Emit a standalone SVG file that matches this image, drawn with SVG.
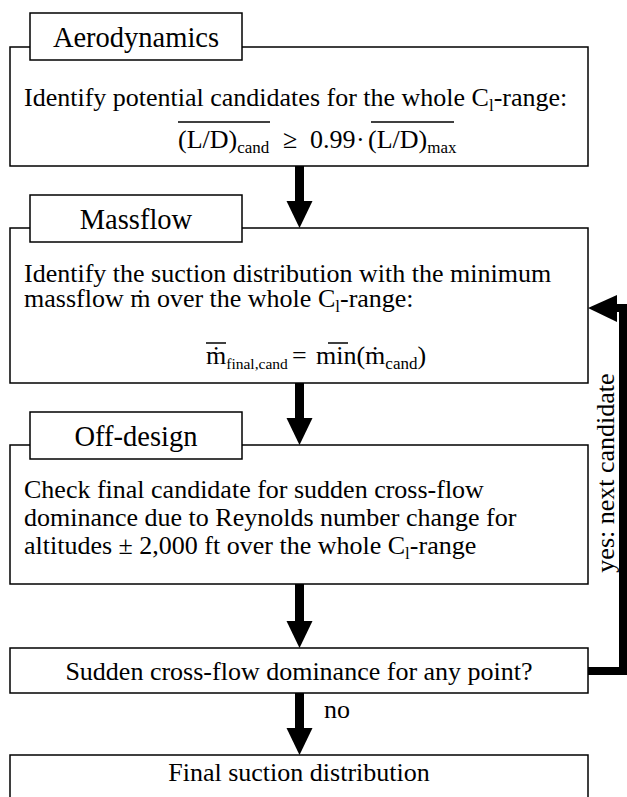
<svg xmlns="http://www.w3.org/2000/svg" width="627" height="797" viewBox="0 0 627 797">
<style>
.box{fill:#fff;stroke:#000;stroke-width:1.5}
.t{font-family:"Liberation Serif","Times New Roman",serif;font-size:26px;fill:#000}
.h{font-family:"Liberation Serif","Times New Roman",serif;font-size:28.5px;fill:#000;text-anchor:middle}
.s{font-size:17px}
.s2{font-size:15.5px}
.ov{stroke:#000;stroke-width:1.5;fill:none}
.c{fill:none;stroke:#000;stroke-width:9}
.ah{fill:#000}
</style>
<defs>
<path id="down" d="M-13,-27 L13,-27 L0,0 Z"/>
</defs>
<g id="connectors">
<line class="c" x1="299.5" y1="166" x2="299.5" y2="205"/>
<use href="#down" class="ah" x="299.5" y="228"/>
<line class="c" x1="299.5" y1="383" x2="299.5" y2="422"/>
<use href="#down" class="ah" x="299.5" y="445"/>
<line class="c" x1="299.5" y1="584" x2="299.5" y2="625"/>
<use href="#down" class="ah" x="299.5" y="648"/>
<line class="c" x1="299.5" y1="693" x2="299.5" y2="732"/>
<use href="#down" class="ah" x="299.5" y="755"/>
<path d="M588,671 L623,671 L623,308 L614,308" fill="none" stroke="#000" stroke-width="8"/>
<path class="ah" d="M588,308 L617,295 L617,322 Z"/>
<text class="t" x="324" y="718">no</text>
<text class="t" transform="translate(614,473) rotate(-90)" text-anchor="middle">yes: next candidate</text>
</g>
<g id="aerodynamics">
<rect class="box" x="10" y="47" width="578" height="119"/>
<rect class="box" x="30" y="13" width="212" height="47"/>
<text class="h" x="136" y="47">Aerodynamics</text>
<text class="t" x="24" y="106">Identify potential candidates for the whole C<tspan class="s" dy="5">l</tspan><tspan dy="-5">-range:</tspan></text>
<text class="t" x="178" y="148">(L/D)<tspan class="s" dy="5">cand</tspan></text>
<text class="t" x="283" y="148">≥</text>
<text class="t" x="310" y="148">0.99</text>
<text class="t" x="356" y="148">·</text>
<text class="t" x="368" y="148">(L/D)<tspan class="s" dy="5">max</tspan></text>
<line class="ov" x1="178" y1="122" x2="270" y2="122"/>
<line class="ov" x1="371" y1="122" x2="454" y2="122"/>
</g>
<g id="massflow">
<rect class="box" x="10" y="228" width="578" height="155"/>
<rect class="box" x="30" y="195" width="212" height="47"/>
<text class="h" x="136" y="229">Massflow</text>
<text class="t" x="24" y="282">Identify the suction distribution with the minimum</text>
<text class="t" x="24" y="307">massflow ṁ over the whole C<tspan class="s" dy="5">l</tspan><tspan dy="-5">-range:</tspan></text>
<text class="t" x="206" y="364">ṁ<tspan class="s2" dy="5">final,cand</tspan></text>
<text class="t" x="292" y="364">=</text>
<text class="t" x="316" y="364">min(ṁ<tspan class="s" dy="5">cand</tspan><tspan dy="-5">)</tspan></text>
<line class="ov" x1="206" y1="343" x2="226" y2="343"/>
<line class="ov" x1="328" y1="343" x2="348" y2="343"/>
</g>
<g id="offdesign">
<rect class="box" x="10" y="445" width="578" height="139"/>
<rect class="box" x="30" y="412" width="212" height="47"/>
<text class="h" x="136" y="446">Off-design</text>
<text class="t" x="24" y="498">Check final candidate for sudden cross-flow</text>
<text class="t" x="24" y="526">dominance due to Reynolds number change for</text>
<text class="t" x="24" y="554">altitudes ± 2,000 ft over the whole C<tspan class="s" dy="5">l</tspan><tspan dy="-5">-range</tspan></text>
</g>
<g id="decision">
<rect class="box" x="10" y="648" width="578" height="45"/>
<text class="t" x="299" y="680" text-anchor="middle">Sudden cross-flow dominance for any point?</text>
</g>
<g id="final">
<rect class="box" x="10" y="755" width="578" height="60"/>
<text class="t" x="299" y="781" text-anchor="middle">Final suction distribution</text>
</g>
</svg>
